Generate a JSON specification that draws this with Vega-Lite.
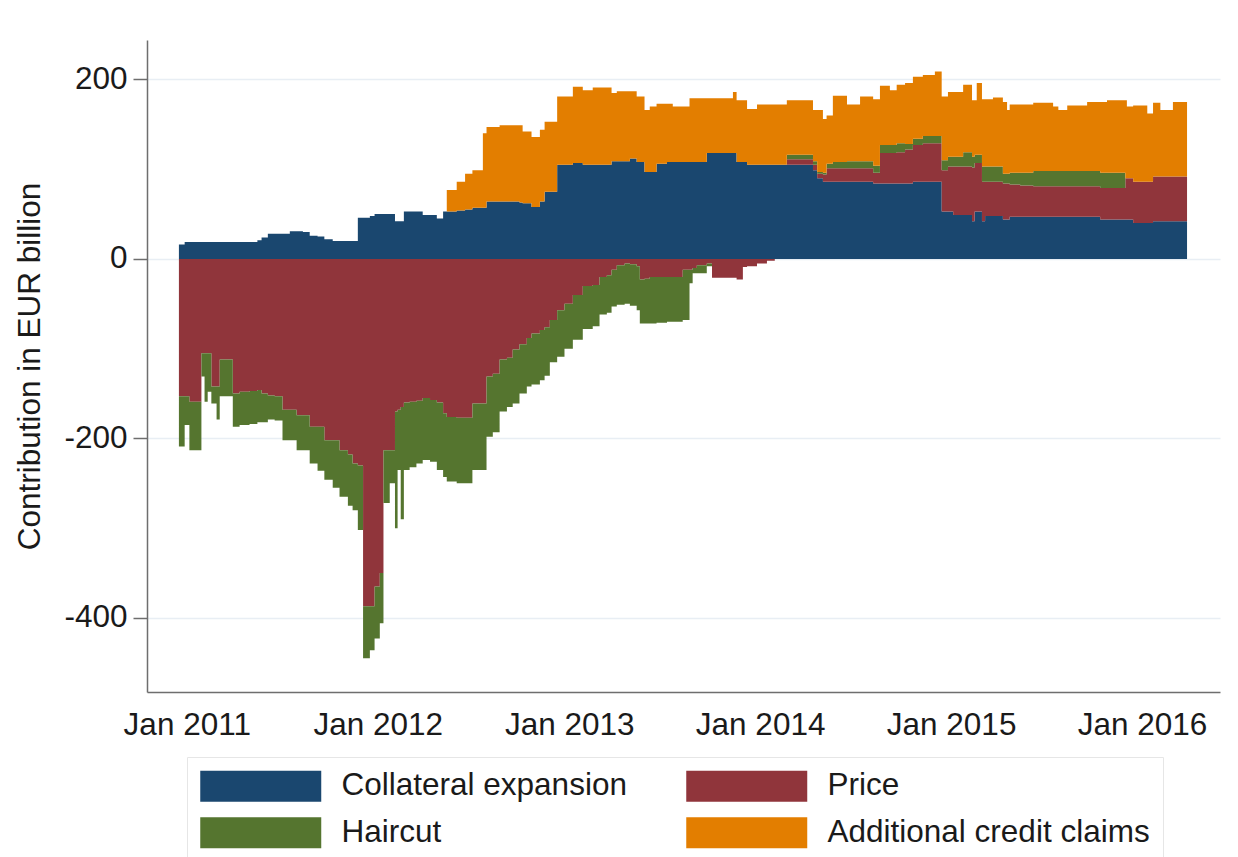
{
  "$schema": "https://vega.github.io/schema/vega-lite/v6.json",
  "width": 1073,
  "height": 652,
  "autosize": {"type": "none"},
  "padding": {"left": 147, "top": 40, "right": 18, "bottom": 165},
  "background": "white",
  "config": {"view": {"stroke": null}, "font": "Liberation Sans"},
  "data": {"values": [
    {"date":"2010-12-17","Collateral expansion":16,"Price":-153,"Haircut":-56,"Additional credit claims":0},
    {"date":"2010-12-28","Collateral expansion":19,"Price":-153,"Haircut":-32,"Additional credit claims":0},
    {"date":"2011-01-06","Collateral expansion":19,"Price":-159,"Haircut":-54,"Additional credit claims":0},
    {"date":"2011-01-29","Collateral expansion":19,"Price":-105,"Haircut":-26,"Additional credit claims":0},
    {"date":"2011-02-04","Collateral expansion":19,"Price":-105,"Haircut":-54,"Additional credit claims":0},
    {"date":"2011-02-10","Collateral expansion":19,"Price":-105,"Haircut":-43,"Additional credit claims":0},
    {"date":"2011-02-17","Collateral expansion":19,"Price":-142,"Haircut":-19,"Additional credit claims":0},
    {"date":"2011-02-27","Collateral expansion":19,"Price":-142,"Haircut":-37,"Additional credit claims":0},
    {"date":"2011-03-05","Collateral expansion":19,"Price":-112,"Haircut":-41,"Additional credit claims":0},
    {"date":"2011-03-30","Collateral expansion":19,"Price":-150,"Haircut":-37,"Additional credit claims":0},
    {"date":"2011-04-12","Collateral expansion":19,"Price":-148,"Haircut":-37,"Additional credit claims":0},
    {"date":"2011-05-01","Collateral expansion":19,"Price":-147,"Haircut":-37,"Additional credit claims":0},
    {"date":"2011-05-16","Collateral expansion":21,"Price":-146,"Haircut":-36,"Additional credit claims":0},
    {"date":"2011-05-24","Collateral expansion":24,"Price":-150,"Haircut":-32,"Additional credit claims":0},
    {"date":"2011-06-05","Collateral expansion":28,"Price":-152,"Haircut":-27,"Additional credit claims":0},
    {"date":"2011-06-18","Collateral expansion":28,"Price":-153,"Haircut":-27,"Additional credit claims":0},
    {"date":"2011-07-03","Collateral expansion":28,"Price":-168,"Haircut":-34,"Additional credit claims":0},
    {"date":"2011-07-17","Collateral expansion":31,"Price":-168,"Haircut":-34,"Additional credit claims":0},
    {"date":"2011-07-30","Collateral expansion":31,"Price":-174,"Haircut":-39,"Additional credit claims":0},
    {"date":"2011-08-11","Collateral expansion":30,"Price":-174,"Haircut":-39,"Additional credit claims":0},
    {"date":"2011-08-24","Collateral expansion":26,"Price":-187,"Haircut":-41,"Additional credit claims":0},
    {"date":"2011-09-08","Collateral expansion":25,"Price":-187,"Haircut":-49,"Additional credit claims":0},
    {"date":"2011-09-21","Collateral expansion":22,"Price":-202,"Haircut":-44,"Additional credit claims":0},
    {"date":"2011-10-07","Collateral expansion":20,"Price":-202,"Haircut":-53,"Additional credit claims":0},
    {"date":"2011-10-20","Collateral expansion":20,"Price":-213,"Haircut":-52,"Additional credit claims":0},
    {"date":"2011-11-05","Collateral expansion":20,"Price":-218,"Haircut":-57,"Additional credit claims":0},
    {"date":"2011-11-14","Collateral expansion":20,"Price":-228,"Haircut":-52,"Additional credit claims":0},
    {"date":"2011-11-24","Collateral expansion":46,"Price":-230,"Haircut":-72,"Additional credit claims":0},
    {"date":"2011-12-04","Collateral expansion":46,"Price":-387,"Haircut":-58,"Additional credit claims":0},
    {"date":"2011-12-17","Collateral expansion":48,"Price":-387,"Haircut":-49,"Additional credit claims":0},
    {"date":"2011-12-26","Collateral expansion":50,"Price":-365,"Haircut":-58,"Additional credit claims":0},
    {"date":"2012-01-05","Collateral expansion":50,"Price":-350,"Haircut":-56,"Additional credit claims":0},
    {"date":"2012-01-12","Collateral expansion":50,"Price":-213,"Haircut":-59,"Additional credit claims":0},
    {"date":"2012-01-24","Collateral expansion":50,"Price":-213,"Haircut":-37,"Additional credit claims":0},
    {"date":"2012-02-03","Collateral expansion":42,"Price":-170,"Haircut":-130,"Additional credit claims":0},
    {"date":"2012-02-08","Collateral expansion":42,"Price":-168,"Haircut":-67,"Additional credit claims":0},
    {"date":"2012-02-14","Collateral expansion":42,"Price":-165,"Haircut":-125,"Additional credit claims":0},
    {"date":"2012-02-20","Collateral expansion":53,"Price":-160,"Haircut":-75,"Additional credit claims":0},
    {"date":"2012-03-02","Collateral expansion":53,"Price":-159,"Haircut":-73,"Additional credit claims":0},
    {"date":"2012-03-15","Collateral expansion":53,"Price":-158,"Haircut":-70,"Additional credit claims":0},
    {"date":"2012-03-27","Collateral expansion":49,"Price":-155,"Haircut":-69,"Additional credit claims":0},
    {"date":"2012-04-10","Collateral expansion":49,"Price":-157,"Haircut":-69,"Additional credit claims":0},
    {"date":"2012-04-23","Collateral expansion":45,"Price":-160,"Haircut":-75,"Additional credit claims":0},
    {"date":"2012-05-05","Collateral expansion":53,"Price":-172,"Haircut":-71,"Additional credit claims":0},
    {"date":"2012-05-12","Collateral expansion":53,"Price":-176,"Haircut":-72,"Additional credit claims":24},
    {"date":"2012-05-31","Collateral expansion":54,"Price":-177,"Haircut":-73,"Additional credit claims":32},
    {"date":"2012-06-16","Collateral expansion":55,"Price":-177,"Haircut":-73,"Additional credit claims":40},
    {"date":"2012-06-30","Collateral expansion":57,"Price":-161,"Haircut":-74,"Additional credit claims":42},
    {"date":"2012-07-20","Collateral expansion":57,"Price":-161,"Haircut":-74,"Additional credit claims":83},
    {"date":"2012-07-27","Collateral expansion":64,"Price":-131,"Haircut":-67,"Additional credit claims":83},
    {"date":"2012-08-08","Collateral expansion":64,"Price":-128,"Haircut":-65,"Additional credit claims":83},
    {"date":"2012-08-21","Collateral expansion":64,"Price":-112,"Haircut":-58,"Additional credit claims":85},
    {"date":"2012-09-04","Collateral expansion":64,"Price":-110,"Haircut":-55,"Additional credit claims":85},
    {"date":"2012-09-15","Collateral expansion":64,"Price":-101,"Haircut":-60,"Additional credit claims":85},
    {"date":"2012-09-28","Collateral expansion":63,"Price":-95,"Haircut":-55,"Additional credit claims":86},
    {"date":"2012-10-04","Collateral expansion":62,"Price":-95,"Haircut":-55,"Additional credit claims":80},
    {"date":"2012-10-12","Collateral expansion":62,"Price":-88,"Haircut":-54,"Additional credit claims":80},
    {"date":"2012-10-21","Collateral expansion":58,"Price":-83,"Haircut":-57,"Additional credit claims":78},
    {"date":"2012-11-06","Collateral expansion":64,"Price":-79,"Haircut":-56,"Additional credit claims":80},
    {"date":"2012-11-15","Collateral expansion":75,"Price":-76,"Haircut":-54,"Additional credit claims":78},
    {"date":"2012-11-25","Collateral expansion":75,"Price":-68,"Haircut":-47,"Additional credit claims":78},
    {"date":"2012-12-09","Collateral expansion":105,"Price":-57,"Haircut":-52,"Additional credit claims":76},
    {"date":"2012-12-23","Collateral expansion":105,"Price":-50,"Haircut":-50,"Additional credit claims":76},
    {"date":"2013-01-08","Collateral expansion":107,"Price":-40,"Haircut":-50,"Additional credit claims":85},
    {"date":"2013-01-27","Collateral expansion":105,"Price":-30,"Haircut":-48,"Additional credit claims":83},
    {"date":"2013-02-15","Collateral expansion":105,"Price":-29,"Haircut":-46,"Additional credit claims":86},
    {"date":"2013-02-28","Collateral expansion":105,"Price":-20,"Haircut":-42,"Additional credit claims":86},
    {"date":"2013-03-14","Collateral expansion":105,"Price":-18,"Haircut":-42,"Additional credit claims":86},
    {"date":"2013-03-23","Collateral expansion":109,"Price":-12,"Haircut":-41,"Additional credit claims":76},
    {"date":"2013-04-02","Collateral expansion":109,"Price":-7,"Haircut":-44,"Additional credit claims":78},
    {"date":"2013-04-17","Collateral expansion":109,"Price":-5,"Haircut":-45,"Additional credit claims":78},
    {"date":"2013-04-27","Collateral expansion":112,"Price":-6,"Haircut":-46,"Additional credit claims":75},
    {"date":"2013-05-10","Collateral expansion":108,"Price":-8,"Haircut":-49,"Additional credit claims":73},
    {"date":"2013-05-16","Collateral expansion":108,"Price":-23,"Haircut":-49,"Additional credit claims":73},
    {"date":"2013-05-25","Collateral expansion":97,"Price":-22,"Haircut":-50,"Additional credit claims":69},
    {"date":"2013-06-04","Collateral expansion":97,"Price":-20,"Haircut":-52,"Additional credit claims":73},
    {"date":"2013-06-17","Collateral expansion":106,"Price":-20,"Haircut":-51,"Additional credit claims":67},
    {"date":"2013-07-07","Collateral expansion":108,"Price":-20,"Haircut":-50,"Additional credit claims":65},
    {"date":"2013-07-18","Collateral expansion":108,"Price":-20,"Haircut":-50,"Additional credit claims":62},
    {"date":"2013-08-06","Collateral expansion":108,"Price":-12,"Haircut":-56,"Additional credit claims":62},
    {"date":"2013-08-19","Collateral expansion":108,"Price":-12,"Haircut":-15,"Additional credit claims":71},
    {"date":"2013-08-25","Collateral expansion":108,"Price":-10,"Haircut":-6,"Additional credit claims":71},
    {"date":"2013-09-02","Collateral expansion":108,"Price":-7,"Haircut":-9,"Additional credit claims":71},
    {"date":"2013-09-21","Collateral expansion":118,"Price":-5,"Haircut":-3,"Additional credit claims":61},
    {"date":"2013-10-01","Collateral expansion":118,"Price":-21,"Haircut":0,"Additional credit claims":61},
    {"date":"2013-11-10","Collateral expansion":118,"Price":-21,"Haircut":0,"Additional credit claims":68},
    {"date":"2013-11-17","Collateral expansion":108,"Price":-23,"Haircut":0,"Additional credit claims":69},
    {"date":"2013-11-29","Collateral expansion":108,"Price":-9,"Haircut":0,"Additional credit claims":69},
    {"date":"2013-12-07","Collateral expansion":105,"Price":-8,"Haircut":0,"Additional credit claims":62},
    {"date":"2013-12-26","Collateral expansion":105,"Price":-5,"Haircut":0,"Additional credit claims":67},
    {"date":"2014-01-14","Collateral expansion":105,"Price":-2,"Haircut":0,"Additional credit claims":67},
    {"date":"2014-01-29","Collateral expansion":105,"Price":0,"Haircut":0,"Additional credit claims":67},
    {"date":"2014-02-21","Collateral expansion":105,"Price":6,"Haircut":5,"Additional credit claims":61},
    {"date":"2014-04-12","Collateral expansion":99,"Price":6,"Haircut":4,"Additional credit claims":57},
    {"date":"2014-04-20","Collateral expansion":90,"Price":5,"Haircut":2,"Additional credit claims":69},
    {"date":"2014-05-01","Collateral expansion":86,"Price":8,"Haircut":2,"Additional credit claims":60},
    {"date":"2014-05-08","Collateral expansion":86,"Price":15,"Haircut":5,"Additional credit claims":54},
    {"date":"2014-05-20","Collateral expansion":86,"Price":15,"Haircut":7,"Additional credit claims":74},
    {"date":"2014-06-16","Collateral expansion":86,"Price":15,"Haircut":8,"Additional credit claims":63},
    {"date":"2014-07-11","Collateral expansion":86,"Price":15,"Haircut":8,"Additional credit claims":72},
    {"date":"2014-08-05","Collateral expansion":84,"Price":12,"Haircut":8,"Additional credit claims":74},
    {"date":"2014-08-18","Collateral expansion":84,"Price":34,"Haircut":9,"Additional credit claims":66},
    {"date":"2014-09-06","Collateral expansion":84,"Price":34,"Haircut":9,"Additional credit claims":61},
    {"date":"2014-09-19","Collateral expansion":84,"Price":35,"Haircut":10,"Additional credit claims":65},
    {"date":"2014-10-05","Collateral expansion":84,"Price":38,"Haircut":6,"Additional credit claims":68},
    {"date":"2014-10-20","Collateral expansion":86,"Price":41,"Haircut":7,"Additional credit claims":69},
    {"date":"2014-11-08","Collateral expansion":86,"Price":43,"Haircut":8,"Additional credit claims":68},
    {"date":"2014-12-01","Collateral expansion":86,"Price":43,"Haircut":8,"Additional credit claims":72},
    {"date":"2014-12-14","Collateral expansion":53,"Price":46,"Haircut":11,"Additional credit claims":71},
    {"date":"2014-12-26","Collateral expansion":53,"Price":50,"Haircut":11,"Additional credit claims":72},
    {"date":"2015-01-05","Collateral expansion":49,"Price":54,"Haircut":11,"Additional credit claims":72},
    {"date":"2015-01-24","Collateral expansion":49,"Price":54,"Haircut":16,"Additional credit claims":75},
    {"date":"2015-02-10","Collateral expansion":42,"Price":60,"Haircut":12,"Additional credit claims":63},
    {"date":"2015-02-15","Collateral expansion":53,"Price":54,"Haircut":9,"Additional credit claims":61},
    {"date":"2015-02-19","Collateral expansion":53,"Price":54,"Haircut":9,"Additional credit claims":80},
    {"date":"2015-03-01","Collateral expansion":42,"Price":44,"Haircut":17,"Additional credit claims":75},
    {"date":"2015-03-07","Collateral expansion":48,"Price":38,"Haircut":17,"Additional credit claims":75},
    {"date":"2015-03-22","Collateral expansion":48,"Price":38,"Haircut":17,"Additional credit claims":77},
    {"date":"2015-04-10","Collateral expansion":44,"Price":40,"Haircut":11,"Additional credit claims":80},
    {"date":"2015-04-18","Collateral expansion":44,"Price":40,"Haircut":11,"Additional credit claims":71},
    {"date":"2015-04-23","Collateral expansion":47,"Price":36,"Haircut":13,"Additional credit claims":76},
    {"date":"2015-05-13","Collateral expansion":47,"Price":35,"Haircut":14,"Additional credit claims":76},
    {"date":"2015-06-07","Collateral expansion":47,"Price":34,"Haircut":17,"Additional credit claims":76},
    {"date":"2015-07-15","Collateral expansion":47,"Price":34,"Haircut":17,"Additional credit claims":72},
    {"date":"2015-07-25","Collateral expansion":47,"Price":34,"Haircut":17,"Additional credit claims":68},
    {"date":"2015-08-11","Collateral expansion":47,"Price":34,"Haircut":17,"Additional credit claims":73},
    {"date":"2015-09-18","Collateral expansion":47,"Price":34,"Haircut":17,"Additional credit claims":77},
    {"date":"2015-10-13","Collateral expansion":44,"Price":35,"Haircut":17,"Additional credit claims":79},
    {"date":"2015-10-26","Collateral expansion":44,"Price":35,"Haircut":17,"Additional credit claims":81},
    {"date":"2015-11-30","Collateral expansion":44,"Price":46,"Haircut":0,"Additional credit claims":87},
    {"date":"2015-12-03","Collateral expansion":44,"Price":46,"Haircut":0,"Additional credit claims":80},
    {"date":"2015-12-15","Collateral expansion":40,"Price":46,"Haircut":0,"Additional credit claims":85},
    {"date":"2016-01-11","Collateral expansion":40,"Price":46,"Haircut":0,"Additional credit claims":76},
    {"date":"2016-01-22","Collateral expansion":42,"Price":50,"Haircut":0,"Additional credit claims":82},
    {"date":"2016-02-05","Collateral expansion":42,"Price":50,"Haircut":0,"Additional credit claims":74},
    {"date":"2016-02-29","Collateral expansion":42,"Price":50,"Haircut":0,"Additional credit claims":83},
    {"date":"2016-03-27","Collateral expansion":42,"Price":50,"Haircut":0,"Additional credit claims":83}
  ]},
  "transform": [
    {"fold": ["Collateral expansion", "Price", "Haircut", "Additional credit claims"], "as": ["series", "value"]},
    {"lookup": "series", "from": {"data": {"values": [
      {"series": "Collateral expansion", "rank": 1},
      {"series": "Price", "rank": 2},
      {"series": "Haircut", "rank": 3},
      {"series": "Additional credit claims", "rank": 4}
    ]}, "key": "series", "fields": ["rank"]}}
  ],
  "mark": {"type": "area", "interpolate": "step-after", "opacity": 1},
  "encoding": {
    "x": {
      "field": "date",
      "type": "temporal",
      "scale": {"type": "utc", "domain": [{"year": 2010, "month": 10, "date": 17, "utc": true}, {"year": 2016, "month": 5, "date": 29, "utc": true}]},
      "axis": {
        "title": null,
        "ticks": false,
        "grid": false,
        "domainColor": "#6e6e6e",
        "domainWidth": 1.5,
        "labelFontSize": 31.5,
        "labelColor": "#1a1a1a",
        "labelPadding": 17,
        "labelFlush": false,
        "labelOverlap": false,
        "format": "%b %Y",
        "values": [
          {"year": 2011, "month": 1, "date": 1, "utc": true},
          {"year": 2012, "month": 1, "date": 1, "utc": true},
          {"year": 2013, "month": 1, "date": 1, "utc": true},
          {"year": 2014, "month": 1, "date": 1, "utc": true},
          {"year": 2015, "month": 1, "date": 1, "utc": true},
          {"year": 2016, "month": 1, "date": 1, "utc": true}
        ]
      }
    },
    "y": {
      "field": "value",
      "type": "quantitative",
      "stack": "zero",
      "scale": {"domain": [-482.5, 244], "nice": false, "zero": false},
      "axis": {
        "title": "Contribution in EUR billion",
        "values": [-400, -200, 0, 200],
        "labelExpr": "'' + datum.value",
        "grid": true,
        "gridColor": "#e8eef4",
        "gridWidth": 1.5,
        "tickSize": 14,
        "tickColor": "#6e6e6e",
        "tickWidth": 1.5,
        "domainColor": "#6e6e6e",
        "domainWidth": 1.5,
        "labelFontSize": 31.5,
        "labelPadding": 6,
        "labelColor": "#1a1a1a",
        "titleFontSize": 31.5,
        "titleFontWeight": "normal",
        "titleColor": "#1a1a1a",
        "titleX": -117,
        "titleY": 326,
        "titleAngle": -90,
        "titleBaseline": "middle",
        "titleAlign": "center"
      }
    },
    "order": {"field": "rank", "type": "quantitative", "sort": "ascending"},
    "color": {
      "field": "series",
      "type": "nominal",
      "sort": ["Collateral expansion", "Price", "Haircut", "Additional credit claims"],
      "scale": {
        "domain": ["Collateral expansion", "Price", "Haircut", "Additional credit claims"],
        "range": ["#1a476f", "#90353b", "#55752f", "#e37e00"]
      },
      "legend": {
        "orient": "none",
        "legendX": 40,
        "legendY": 717,
        "direction": "horizontal",
        "columns": 2,
        "title": null,
        "symbolType": "M-1,-1L6.806,-1L6.806,1L-1,1Z",
        "symbolSize": 961,
        "symbolStrokeWidth": 0,
        "symbolOpacity": 1,
        "labelFontSize": 31.5,
        "labelColor": "#1a1a1a",
        "labelOffset": 110,
        "labelLimit": 600,
        "columnPadding": 59,
        "rowPadding": 14,
        "padding": 13,
        "strokeColor": "#e6e6e6",
        "fillColor": "white"
      }
    }
  }
}
